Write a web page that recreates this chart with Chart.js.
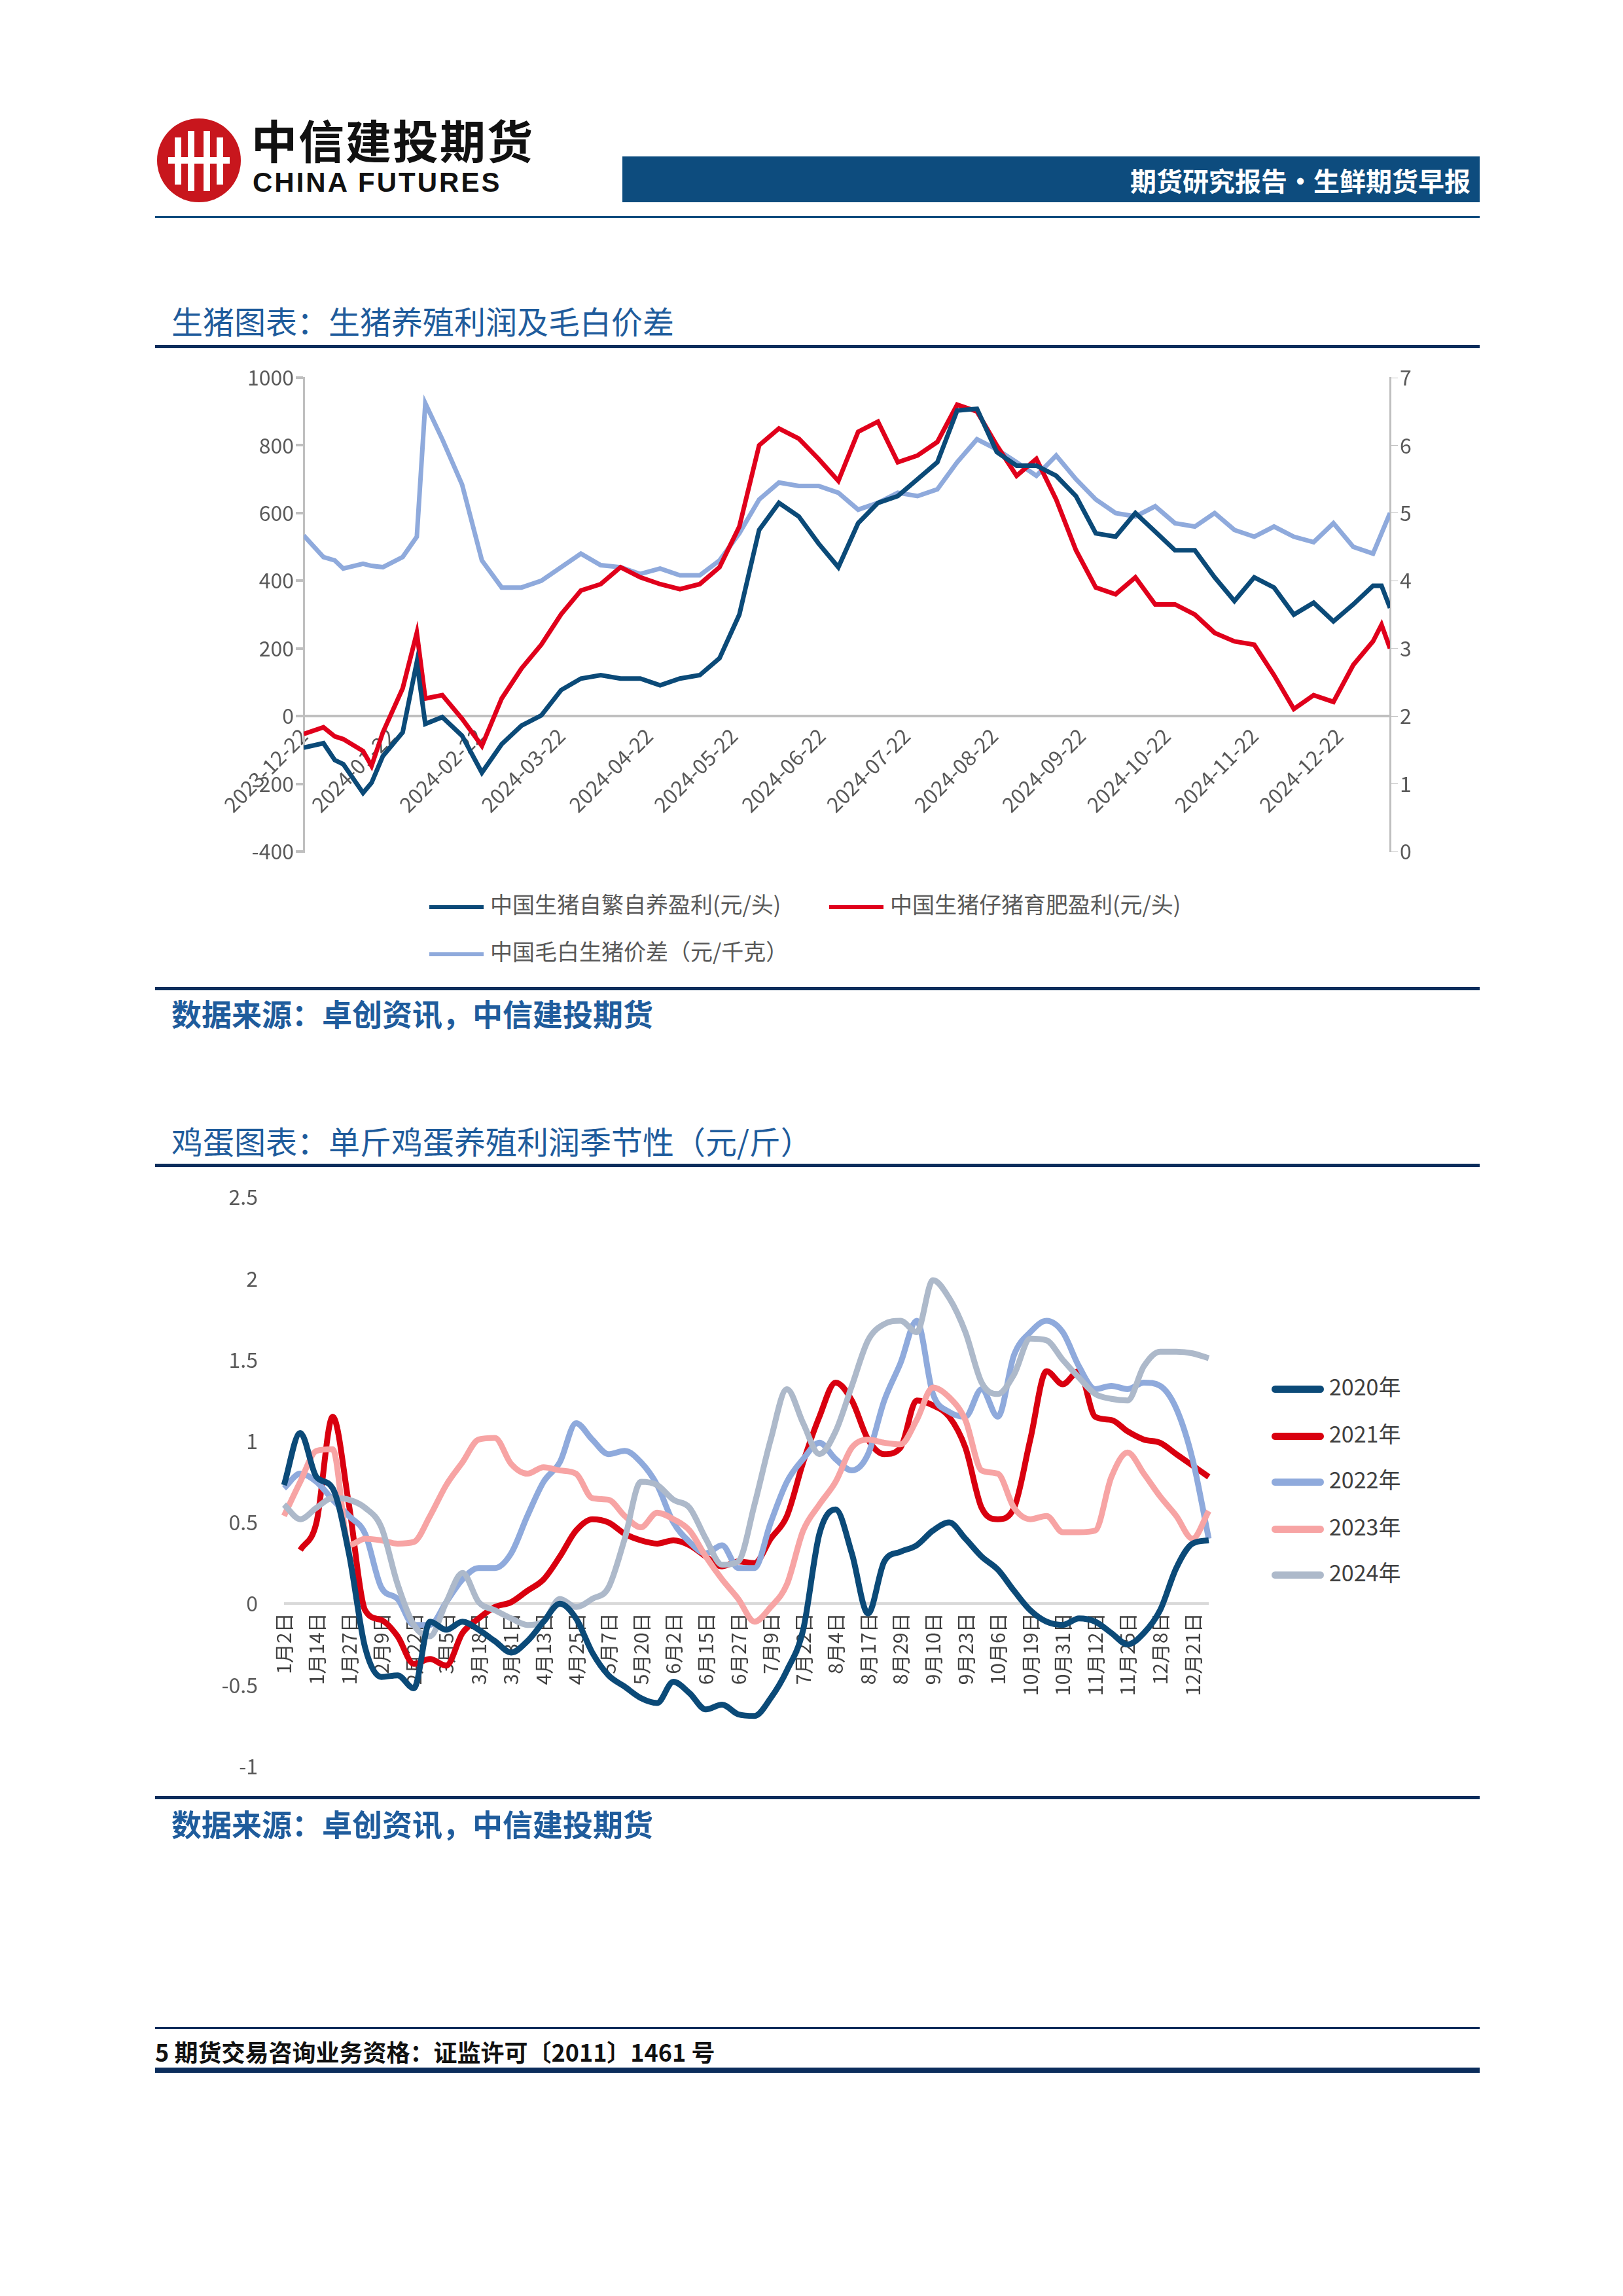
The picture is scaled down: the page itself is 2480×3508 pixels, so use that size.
<!DOCTYPE html>
<html><head><meta charset="utf-8">
<script src="https://cdn.jsdelivr.net/npm/chart.js@4.4.1/dist/chart.umd.min.js"></script>
<style>
html,body{margin:0;padding:0;background:#fff;}
body{width:2480px;height:3508px;position:relative;font-family:"Noto Sans CJK SC","Noto Sans",sans-serif;overflow:hidden;}
.abs{position:absolute;}
.hline{position:absolute;left:237px;width:2024px;}
.title{position:absolute;left:262px;font-size:48px;color:#1f5c9c;line-height:1;}
.src{position:absolute;left:262px;font-size:46px;color:#1f5c9c;line-height:1;font-weight:bold;}
.lg{position:absolute;font-size:34px;color:#595959;line-height:1;white-space:nowrap;}
.lg i{display:inline-block;vertical-align:middle;margin-right:10px;}
</style></head><body>

<svg class="abs" style="left:237px;top:178px" width="134" height="134" viewBox="0 0 134 134">
<circle cx="67" cy="67" r="64" fill="#c8161d"/>
<rect x="30" y="32" width="10" height="72" fill="#fff"/>
<rect x="50" y="22" width="10" height="92" fill="#fff"/>
<rect x="74" y="22" width="10" height="92" fill="#fff"/>
<rect x="94" y="32" width="10" height="72" fill="#fff"/>
<rect x="20" y="62" width="94" height="10" fill="#fff"/>
</svg>
<div class="abs" style="left:384px;top:178px;font-size:70px;font-weight:bold;color:#111;line-height:1;letter-spacing:2px">中信建投期货</div>
<div class="abs" style="left:386px;top:258px;font-size:42px;font-weight:bold;color:#111;line-height:1;letter-spacing:3px;font-family:'Liberation Sans',sans-serif">CHINA FUTURES</div>
<div class="abs" style="left:951px;top:239px;width:1310px;height:70px;background:#0d4c7e;"></div>
<div class="abs" style="left:951px;top:251px;width:1296px;text-align:right;font-size:40px;font-weight:bold;color:#fff;line-height:1.2">期货研究报告•生鲜期货早报</div>
<div class="hline" style="top:330px;height:3px;background:#0d4c7e"></div>

<div class="title" style="top:465px">生猪图表：生猪养殖利润及毛白价差</div>
<div class="hline" style="top:527px;height:5px;background:#0b2d5c"></div>
<div class="abs" style="left:237px;top:540px;width:2024px;height:800px"><canvas id="c1"></canvas></div>
<div class="lg" style="left:656px;top:1364px"><i style="width:83px;height:6px;background:#0b4a78"></i>中国生猪自繁自养盈利(元/头)</div>
<div class="lg" style="left:1267px;top:1364px"><i style="width:83px;height:6px;background:#e0001b"></i>中国生猪仔猪育肥盈利(元/头)</div>
<div class="lg" style="left:656px;top:1436px"><i style="width:83px;height:6px;background:#8faadc"></i>中国毛白生猪价差（元/千克）</div>
<div class="hline" style="top:1508px;height:5px;background:#0b2d5c"></div>
<div class="src" style="top:1524px">数据来源：卓创资讯，中信建投期货</div>

<div class="title" style="top:1718px">鸡蛋图表：单斤鸡蛋养殖利润季节性（元/斤）</div>
<div class="hline" style="top:1778px;height:5px;background:#0b2d5c"></div>
<div class="abs" style="left:237px;top:1770px;width:1663px;height:988px"><canvas id="c2"></canvas></div>
<div id="lg2"></div>
<div class="hline" style="top:2744px;height:5px;background:#0b2d5c"></div>
<div class="src" style="top:2762px">数据来源：卓创资讯，中信建投期货</div>

<div class="hline" style="top:3097px;height:3px;background:#0b2d5c"></div>
<div class="abs" style="left:237px;top:3116px;font-size:36px;font-weight:bold;color:#111;line-height:1">5 期货交易咨询业务资格：证监许可〔2011〕1461 号</div>
<div class="hline" style="top:3159px;height:8px;background:#0b2d5c"></div>

<script>
// ---- Chart 1 data (days since 2023-12-22) ----
const pigDays = [0,7,11,14,21,24,28,35,40,43,49,56,63,70,77,84,91,98,105,112,119,126,133,140,147,154,161,168,175,182,189,196,203,210,217,224,231,238,245,252,259,266,273,280,287,294,301,308,315,322,329,336,343,350,357,364,371,378,381,384];
const selfBreed = [-93,-80,-130,-142,-227,-197,-118,-48,160,-23,-3,-58,-167,-83,-28,2,77,111,121,111,111,91,111,121,171,300,550,630,590,510,440,570,630,650,700,750,903,908,780,740,740,710,650,540,530,600,545,490,490,410,340,410,380,300,335,280,330,385,385,320];
const pigletFatten = [-53,-33,-60,-68,-103,-147,-48,82,246,52,62,-8,-88,52,141,211,301,371,390,440,410,390,375,390,440,560,800,850,820,760,695,840,870,750,770,810,920,900,800,710,760,640,490,380,360,410,330,330,300,246,221,211,121,21,62,42,151,221,270,200];
const hogSpread = [4.67,4.35,4.30,4.18,4.25,4.22,4.20,4.35,4.65,6.62,6.09,5.42,4.30,3.90,3.90,4.00,4.20,4.40,4.23,4.20,4.10,4.18,4.08,4.08,4.30,4.70,5.20,5.45,5.40,5.40,5.30,5.05,5.15,5.30,5.25,5.35,5.75,6.09,5.94,5.75,5.55,5.85,5.50,5.20,5.00,4.95,5.10,4.85,4.80,5.00,4.75,4.65,4.80,4.65,4.57,4.85,4.50,4.40,4.70,5.00];
const pigTickDays = [0,31,62,91,122,152,183,213,244,275,305,336,366];
const pigTickLabels = ['2023-12-22','2024-01-22','2024-02-22','2024-03-22','2024-04-22','2024-05-22','2024-06-22','2024-07-22','2024-08-22','2024-09-22','2024-10-22','2024-11-22','2024-12-22'];

// ---- Chart 2 data ----
const eggDateLabels = ['1月2日','1月14日','1月27日','2月9日','2月22日','3月5日','3月18日','3月31日','4月13日','4月25日','5月7日','5月20日','6月2日','6月15日','6月27日','7月9日','7月22日','8月4日','8月17日','8月29日','9月10日','9月23日','10月6日','10月19日','10月31日','11月12日','11月25日','12月8日','12月21日'];
const egg2020 = [0.73,1.05,0.78,0.71,0.31,-0.27,-0.45,-0.44,-0.52,-0.11,-0.16,-0.11,-0.16,-0.23,-0.30,-0.23,-0.11,0.0,-0.09,-0.30,-0.44,-0.51,-0.58,-0.61,-0.48,-0.55,-0.65,-0.62,-0.68,-0.69,-0.58,-0.41,-0.16,0.43,0.58,0.31,-0.06,0.26,0.32,0.36,0.45,0.50,0.40,0.29,0.21,0.08,-0.04,-0.11,-0.13,-0.09,-0.11,-0.18,-0.25,-0.18,-0.04,0.22,0.37,0.39];
const egg2021 = [null,0.33,0.50,1.15,0.61,-0.04,-0.10,-0.20,-0.37,-0.34,-0.38,-0.18,-0.09,-0.02,0.01,0.08,0.15,0.29,0.45,0.52,0.50,0.43,0.39,0.37,0.39,0.36,0.29,0.23,0.26,0.25,0.40,0.54,0.87,1.15,1.36,1.25,1.01,0.92,0.96,1.25,1.22,1.15,0.96,0.59,0.52,0.59,1.01,1.43,1.35,1.43,1.15,1.13,1.06,1.01,0.99,0.92,0.85,0.78];
const egg2022 = [0.71,0.80,0.75,0.64,0.54,0.43,0.10,0.03,-0.13,-0.13,0.01,0.15,0.22,0.22,0.31,0.54,0.75,0.87,1.11,1.01,0.92,0.94,0.87,0.73,0.50,0.38,0.31,0.36,0.22,0.22,0.50,0.75,0.89,0.99,0.89,0.82,0.92,1.25,1.48,1.74,1.29,1.18,1.15,1.32,1.15,1.53,1.67,1.74,1.67,1.46,1.32,1.34,1.32,1.36,1.34,1.20,0.89,0.40];
const egg2023 = [0.54,0.75,0.94,0.95,0.36,0.40,0.39,0.37,0.38,0.54,0.73,0.87,1.01,1.02,0.86,0.80,0.84,0.82,0.80,0.65,0.64,0.54,0.47,0.56,0.52,0.45,0.29,0.15,0.03,-0.11,-0.02,0.12,0.45,0.61,0.75,0.96,1.01,0.99,0.98,1.13,1.33,1.27,1.13,0.82,0.80,0.59,0.52,0.54,0.44,0.44,0.45,0.78,0.93,0.80,0.66,0.54,0.40,0.57];
const egg2024 = [0.61,0.52,0.59,0.65,0.64,0.59,0.47,0.12,-0.13,-0.20,0.01,0.19,0.01,-0.04,-0.09,-0.13,-0.11,0.03,-0.02,0.03,0.10,0.40,0.75,0.73,0.64,0.59,0.40,0.24,0.26,0.61,1.01,1.32,1.11,0.92,1.06,1.34,1.62,1.72,1.74,1.67,1.99,1.88,1.67,1.36,1.29,1.41,1.63,1.62,1.50,1.39,1.29,1.26,1.25,1.46,1.55,1.55,1.54,1.51];
const eggYears = ['2020年','2021年','2022年','2023年','2024年'];
const eggColors = ['#0b4a78','#d9000f','#8faadc','#f7a4a4','#adb9ca'];

const FONT = '"Noto Sans CJK SC","Noto Sans",sans-serif';
Chart.defaults.font.family = FONT;
Chart.defaults.color = '#595959';
Chart.defaults.animation = false;

const pts = (xs, ys) => xs.map((x, i) => ({x: x, y: ys[i]}));

new Chart(document.getElementById('c1'), {
  type: 'line',
  data: { datasets: [
    {label:'中国生猪自繁自养盈利(元/头)', data: pts(pigDays, selfBreed), borderColor:'#0b4a78', borderWidth:7, pointRadius:0, yAxisID:'y', order:1},
    {label:'中国生猪仔猪育肥盈利(元/头)', data: pts(pigDays, pigletFatten), borderColor:'#e0001b', borderWidth:7, pointRadius:0, yAxisID:'y', order:2},
    {label:'中国毛白生猪价差（元/千克）', data: pts(pigDays, hogSpread), borderColor:'#8faadc', borderWidth:7, pointRadius:0, yAxisID:'y2', order:3}
  ]},
  options: {
    responsive:true, maintainAspectRatio:false,
    layout:{padding:{top:37, bottom:39}},
    plugins:{legend:{display:false}, tooltip:{enabled:false}},
    scales:{
      x:{type:'linear', min:0, max:384, position:{y:0},
        afterBuildTicks: s => { s.ticks = pigTickDays.map(v => ({value:v})); },
        ticks:{autoSkip:false, minRotation:45, maxRotation:45, font:{size:32}, color:'#595959',
          callback:(v)=>{const i = pigTickDays.indexOf(v); return i>=0 ? pigTickLabels[i] : '';}},
        grid:{display:false}, border:{display:false}},
      y:{position:'left', min:-400, max:1000,
        afterFit: s => { s.width = 227; },
        ticks:{stepSize:200, font:{size:32}, color:'#595959', callback:v=>String(v)},
        grid:{color:c=>c.tick.value===0?'#bfbfbf':'rgba(0,0,0,0)', lineWidth:4, tickColor:'#bfbfbf', tickLength:12},
        border:{display:true, color:'#bfbfbf', width:3}},
      y2:{position:'right', min:0, max:7,
        afterFit: s => { s.width = 137; },
        ticks:{stepSize:1, font:{size:32}, color:'#595959', callback:v=>String(v)},
        grid:{drawOnChartArea:false, tickColor:'#bfbfbf', tickLength:12},
        border:{display:true, color:'#bfbfbf', width:3}}
    }
  }
});

const eggLabels = [];
eggDateLabels.forEach((l, i) => { eggLabels.push(l); if (i < eggDateLabels.length - 1) eggLabels.push(''); });
eggLabels.push('');
const eggSeries = [egg2020, egg2021, egg2022, egg2023, egg2024];

new Chart(document.getElementById('c2'), {
  type:'line',
  data:{ labels: eggLabels, datasets: eggSeries.map((d, i) => ({
    label: eggYears[i], data: d, borderColor: eggColors[i], borderWidth:9, pointRadius:0,
    tension:0.4, cubicInterpolationMode:'monotone', spanGaps:true, order: i===0 ? 0 : 5-i
  }))},
  options:{
    responsive:true, maintainAspectRatio:false,
    layout:{padding:{top:6, bottom:14, right:53}},
    plugins:{legend:{display:false}, tooltip:{enabled:false}},
    scales:{
      x:{position:{y:0}, offset:false,
        ticks:{autoSkip:false, minRotation:90, maxRotation:90, font:{size:30}, color:'#404040', padding:6},
        grid:{display:false}, border:{display:false}},
      y:{min:-1, max:2.5,
        afterFit: s => { s.width = 197; },
        ticks:{stepSize:0.5, font:{size:32}, color:'#595959', padding:40, callback:v=>String(v)},
        grid:{color:c=>c.tick.value===0?'#d9d9d9':'rgba(0,0,0,0)', lineWidth:4, drawTicks:false},
        border:{display:false}}
    }
  }
});

const lg2 = document.getElementById('lg2');
const lgTops = [2101, 2173, 2243, 2315, 2385];
eggYears.forEach((y, i) => {
  const d = document.createElement('div');
  d.className = 'lg';
  d.style.left = '1943px'; d.style.top = lgTops[i] + 'px'; d.style.color = '#404040';
  d.innerHTML = '<i style="width:80px;height:11px;border-radius:6px;background:' + eggColors[i] + ';margin-right:8px"></i>' + y;
  lg2.appendChild(d);
});
</script>
</body></html>
